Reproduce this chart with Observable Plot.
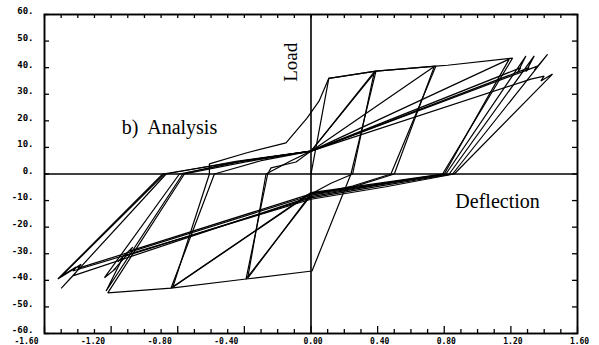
<!DOCTYPE html>
<html><head><meta charset="utf-8">
<script src="https://cdn.jsdelivr.net/npm/d3@7"></script>
<script src="https://cdn.jsdelivr.net/npm/@observablehq/plot@0.6"></script>
<style>
body{margin:0;background:#fff}
#chart svg{display:block}
</style>
</head><body><div id="chart"></div>
<script>
// Hysteresis loops (deflection, load)
const cycle1a = [[0,0],[0.03,10],[0.107,36],[0.39,38.7],[0.24,0],[0.006,-36.5],[-0.39,-39.5],[-0.26,0],[-0.24,2.3],[-0.09,4.5],[0,8.6]];
const cycle1b = [[0,8.6],[0.38,38.4],[0.25,0],[0.12,-3.5],[0,-7.5],[-0.38,-39.2],[-0.27,0],[-0.12,5],[0,8.6]];
const cycle2a = [[0,8.6],[0.39,38.7],[0.75,40.6],[0.48,0],[0.25,-4.5],[0,-8],[-0.39,-39.5],[-0.84,-42.9],[-0.58,0],[-0.3,5],[0,8.6]];
const cycle2b = [[0,8.6],[0.74,40.4],[0.5,0],[0.22,-5.5],[0,-7.2],[-0.83,-42.6],[-0.61,0],[-0.61,3.8],[-0.39,7.9],[-0.15,11.7],[-0.024,21],[0.048,27.4],[0.107,36]];
const cycle3a = [[0.107,36],[0.39,38.7],[0.75,40.6],[0.82,40.9],[1.21,43.6],[0.79,0],[0.4,-3.5],[0,-7],[-0.84,-42.9],[-1.22,-44.7],[-0.76,0],[-0.4,4.5],[0,8.6]];
const cycle3b = [[0,8.6],[1.19,43.2],[0.8,0],[0.4,-3.8],[0,-7.5],[-1.09,-29],[-1.07,-27.5],[-1.16,-33],[-1.13,-31.5],[-1.23,-44],[-0.77,0],[-0.42,4.8],[0,8.6]];
const cycle4a = [[0,8.6],[1.26,40],[1.24,38.2],[1.29,44.4],[0.81,0],[0.4,-4],[0,-8],[-1.4,-35.5],[-1.38,-34],[-1.52,-39.5],[-0.89,0],[-0.45,4.5],[0,8.6]];
const cycle4b = [[0,8.6],[1.31,40],[1.29,38.5],[1.34,44.4],[0.83,0],[0.4,-4.2],[0,-8.5],[-1.43,-38.3],[-1.41,-37],[-1.5,-43],[-0.87,0],[-0.45,4.8],[0,8.6]];
const cycle4c = [[0,8.6],[1.36,40.6],[1.34,39],[1.42,45],[0.85,0],[0.42,-4.5],[0,-9],[-1.12,-31],[-1.1,-30],[-1.19,-36.5],[-1.17,-35.5],[-1.24,-39],[-0.79,0],[-0.4,5],[0,8.6]];
const cycle4d = [[0,8.6],[1.32,35.7],[1.4,36.8],[1.38,35],[1.45,37.6],[0.86,0],[0.45,-4.8],[0,-9.5],[-1.43,-36.5],[-1.41,-35],[-1.5,-38.5],[-0.88,0]];

// Axis ticks and labels
const yTickValues = [-60,-50,-40,-30,-20,-10,0,10,20,30,40,50,60];
const yTickLabels = ["-60.","-50.","-40.","-30.","-20.","-10.","0.","10.","20.","30.","40.","50.","60."];
const xTickValues = [-1.6,-1.2,-0.8,-0.4,0,0.4,0.8,1.2,1.6];
const xTickLabels = ["-1.60","-1.20","-0.80","-0.40","0.00","0.40","0.80","1.20","1.60"];
const xMinorTicks = [-1.5,-1.4,-1.3,-1.1,-1.0,-0.9,-0.7,-0.6,-0.5,-0.3,-0.2,-0.1,0.1,0.2,0.3,0.5,0.6,0.7,0.9,1.0,1.1,1.3,1.4,1.5];

// Annotations (data coordinates)
const annLoad = {text:"Load", x:-0.12, y:42};
const annAnalysis = {text:"b)  Analysis", x:-0.85, y:17.5};
const annDeflection = {text:"Deflection", x:1.12, y:-10.5};

const cycles = [cycle1a,cycle1b,cycle2a,cycle2b,cycle3a,cycle3b,cycle4a,cycle4b,cycle4c,cycle4d];
const rows = cycles.flatMap((c,i) => c.map(([x,y]) => ({x, y, cycle:i})));
const yTicks = yTickValues.map((v,i) => ({v, label: yTickLabels[i]}));
const xTicks = xTickValues.map((v,i) => ({v, label: xTickLabels[i]}));

const FRAME_W = 599 - 44 - 22;
const FRAME_H = 345 - 14 - 12;
const tickFont = {fontFamily:"DejaVu Sans Mono", fontWeight:"bold", fontSize:9, fill:"#000"};
const serif = {fontFamily:"Liberation Serif", fontSize:20, fill:"#000"};

const chart = Plot.plot({
  width: 599, height: 345,
  marginLeft: 44, marginRight: 22, marginTop: 14, marginBottom: 12,
  x: {domain: [-1.6, 1.6], axis: null},
  y: {domain: [-60, 60], axis: null},
  style: {background: "#fff", color: "#000"},
  marks: [
    Plot.ruleY([0], {stroke:"#000", strokeWidth:1.4}),
    Plot.ruleX([0], {stroke:"#000", strokeWidth:1.6}),
    Plot.line(rows, {x:"x", y:"y", z:"cycle", stroke:"#000", strokeWidth:1.2, strokeLinejoin:"miter"}),
    Plot.frame({stroke:"#000", strokeWidth:1.9}),
    // bottom ticks (inward)
    Plot.ruleX(xTickValues, {x: d => d, insetTop: FRAME_H - 7, stroke:"#000", strokeWidth:1.3}),
    Plot.ruleX(xMinorTicks, {x: d => d, insetTop: FRAME_H - 4, stroke:"#000", strokeWidth:1.3}),
    // top ticks
    Plot.ruleX(xTickValues, {x: d => d, insetBottom: FRAME_H - 4, stroke:"#000", strokeWidth:1.3}),
    Plot.ruleX(xMinorTicks, {x: d => d, insetBottom: FRAME_H - 4, stroke:"#000", strokeWidth:1.3}),
    // left & right ticks
    Plot.ruleY(yTickValues, {y: d => d, insetRight: FRAME_W - 5, stroke:"#000", strokeWidth:1.3}),
    Plot.ruleY(yTickValues, {y: d => d, insetLeft: FRAME_W - 5, stroke:"#000", strokeWidth:1.3}),
    // y labels
    Plot.text(yTicks, {y:"v", text:"label", frameAnchor:"left", textAnchor:"end", dx:-11, dy:-3, ...tickFont, fontSize:9, letterSpacing:0.8}),
    // x labels
    Plot.text(xTicks.filter(d => d.v < 0), {x:"v", text:"label", frameAnchor:"bottom", textAnchor:"end", dx:-6, dy:10, ...tickFont, fontSize:8, letterSpacing:0.6}),
    Plot.text(xTicks.filter(d => d.v >= 0), {x:"v", text:"label", frameAnchor:"bottom", textAnchor:"middle", dx:2, dy:10, ...tickFont, fontSize:8, letterSpacing:0.6}),
    // annotations
    Plot.text([annLoad], {x:"x", y:"y", text:"text", rotate:-90, ...serif, fontSize:19}),
    Plot.text([annAnalysis], {x:"x", y:"y", text:"text", textAnchor:"middle", ...serif}),
    Plot.text([annDeflection], {x:"x", y:"y", text:"text", textAnchor:"middle", ...serif})
  ]
});
document.getElementById("chart").appendChild(chart);
</script>
</body></html>
